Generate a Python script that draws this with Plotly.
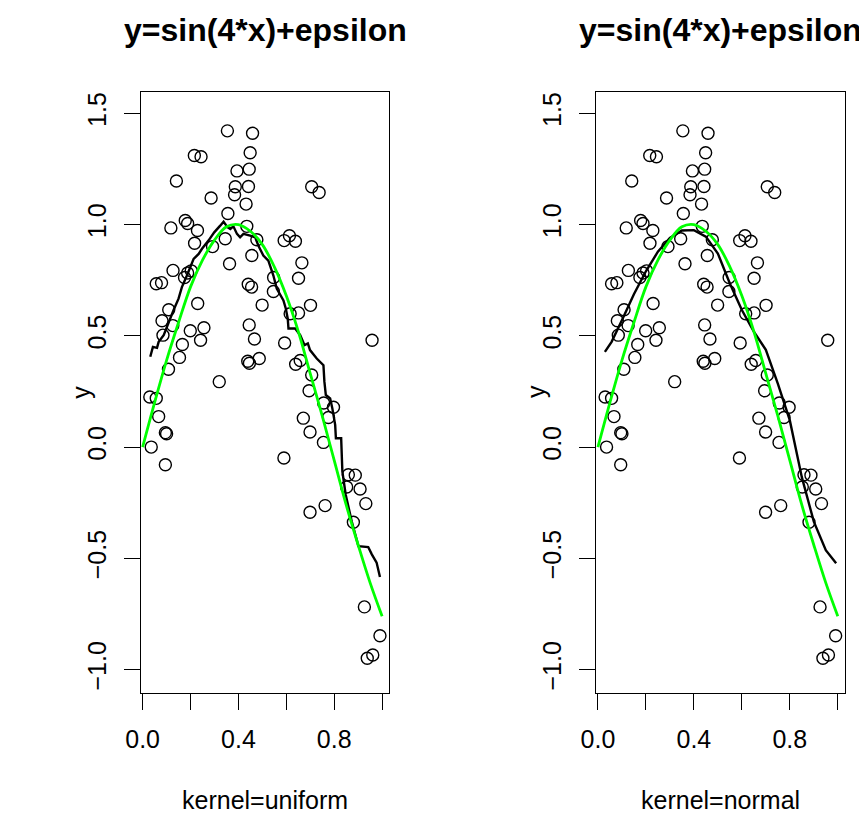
import plotly.graph_objects as go

# ---------------- data ----------------
pts_x = [0.354, 0.459, 0.216, 0.244, 0.449, 0.141, 0.394, 0.445, 0.387, 0.442,
         0.384, 0.286, 0.432, 0.706, 0.737, 0.356, 0.118, 0.178, 0.188, 0.229,
         0.435, 0.217, 0.345, 0.477, 0.591, 0.613, 0.638, 0.292, 0.456, 0.665,
         0.363, 0.127, 0.175, 0.188, 0.203, 0.057, 0.079, 0.651, 0.441, 0.455,
         0.547, 0.546,
         0.109, 0.081, 0.126, 0.085, 0.230, 0.199, 0.256, 0.242, 0.166, 0.154,
         0.108, 0.320, 0.030, 0.057, 0.067, 0.095, 0.100, 0.036, 0.095, 0.499,
         0.445, 0.467, 0.439, 0.446, 0.487, 0.701, 0.651, 0.616, 0.593, 0.639,
         0.658, 0.706, 0.695, 0.756, 0.797, 0.776, 0.671, 0.699, 0.755, 0.590,
         0.958, 0.859, 0.888,
         0.852, 0.908, 0.932, 0.762, 0.699, 0.880, 0.926, 0.991, 0.961, 0.938]
pts_y = [1.421, 1.410, 1.310, 1.305, 1.323, 1.196, 1.241, 1.249, 1.170, 1.171,
         1.134, 1.119, 1.092, 1.170, 1.144, 1.050, 0.985, 1.018, 1.005, 0.973,
         0.992, 0.916, 0.936, 0.932, 0.928, 0.950, 0.925, 0.901, 0.861, 0.828,
         0.824, 0.794, 0.762, 0.782, 0.792, 0.734, 0.739, 0.759, 0.732, 0.719,
         0.762, 0.699,
         0.617, 0.568, 0.546, 0.503, 0.645, 0.523, 0.536, 0.480, 0.461, 0.403,
         0.350, 0.294, 0.225, 0.219, 0.137, 0.065, 0.060, 0.000, -0.079, 0.638,
         0.549, 0.486, 0.386, 0.377, 0.398, 0.637, 0.603, 0.599, 0.468, 0.372,
         0.389, 0.324, 0.253, 0.198, 0.179, 0.133, 0.130, 0.068, 0.021, -0.049,
         0.480, -0.124, -0.126,
         -0.179, -0.188, -0.254, -0.263, -0.293, -0.338, -0.718, -0.848, -0.934, -0.949]

# true curve (green), read at x = 0, 0.05, ..., 1
true_x = [0.00, 0.05, 0.10, 0.15, 0.20, 0.25, 0.30, 0.35, 0.40, 0.45, 0.50,
          0.55, 0.60, 0.65, 0.70, 0.75, 0.80, 0.85, 0.90, 0.95, 1.00]
true_y = [0.00, 0.20, 0.39, 0.56, 0.72, 0.84, 0.93, 0.99, 1.00, 0.97, 0.91,
          0.81, 0.68, 0.52, 0.33, 0.14, -0.06, -0.26, -0.44, -0.61, -0.76]

# uniform-kernel smoother (left, black)
unif_x = [0.032, 0.043, 0.060, 0.067, 0.088, 0.108, 0.129, 0.150, 0.164, 0.185,
          0.199, 0.213, 0.234, 0.248, 0.275, 0.299, 0.324, 0.338, 0.354, 0.366,
          0.379, 0.394, 0.407, 0.421, 0.449, 0.470, 0.483, 0.504, 0.525, 0.546,
          0.560, 0.574, 0.588, 0.598, 0.606, 0.609, 0.637, 0.658, 0.676, 0.690,
          0.699, 0.727, 0.755, 0.759, 0.765, 0.783, 0.792, 0.804, 0.807, 0.829,
          0.834, 0.848, 0.873, 0.901, 0.942, 0.957, 0.977, 0.991]
unif_y = [0.406, 0.450, 0.446, 0.473, 0.503, 0.562, 0.615, 0.667, 0.719, 0.771,
          0.808, 0.846, 0.868, 0.891, 0.928, 0.965, 0.995, 1.013, 0.988, 0.980,
          0.992, 0.958, 0.943, 0.958, 0.950, 0.943, 0.906, 0.861, 0.838, 0.771,
          0.712, 0.682, 0.659, 0.622, 0.577, 0.533, 0.533, 0.503, 0.458, 0.466,
          0.436, 0.398, 0.368, 0.294, 0.234, 0.219, 0.175, 0.100, 0.040, 0.040,
          -0.109, -0.214, -0.333, -0.445, -0.449, -0.482, -0.519, -0.584]

# normal-kernel smoother (right, black)
norm_x = [0.029, 0.057, 0.10, 0.15, 0.20, 0.25, 0.30, 0.35, 0.40, 0.45, 0.50,
          0.55, 0.60, 0.65, 0.70, 0.75, 0.80, 0.85, 0.90, 0.95, 0.993]
norm_y = [0.428, 0.473, 0.570, 0.687, 0.790, 0.878, 0.940, 0.973, 0.975, 0.946, 0.870,
          0.735, 0.616, 0.519, 0.437, 0.285, 0.120, -0.135, -0.335, -0.463, -0.522]

x_tickvals = [0.0, 0.2, 0.4, 0.6, 0.8, 1.0]
x_ticktext = ["0.0", "", "0.4", "", "0.8", ""]
y_tickvals = [-1.0, -0.5, 0.0, 0.5, 1.0, 1.5]
y_ticktext = ["\u22121.0", "\u22120.5", "0.0", "0.5", "1.0", "1.5"]

title_text = "y=sin(4*x)+epsilon"
xlabels = ["kernel=uniform", "kernel=normal"]
ylabel = "y"

# ---------------- figure ----------------
OFF = 8                      # page body margin
W, H = 867 - OFF, 827 - 2 * OFF
FONT = "Liberation Sans, Arial, Helvetica, sans-serif"
fig = go.Figure()

smooths = [(unif_x, unif_y), (norm_x, norm_y)]
for i, (sx, sy) in enumerate(smooths):
    xa = "x" if i == 0 else "x2"
    ya = "y" if i == 0 else "y2"
    fig.add_trace(go.Scatter(x=pts_x, y=pts_y, mode="markers", xaxis=xa, yaxis=ya,
                             marker=dict(symbol="circle-open", size=12, color="black",
                                         line=dict(width=1.4, color="black"))))
    fig.add_trace(go.Scatter(x=sx, y=sy, mode="lines", xaxis=xa, yaxis=ya,
                             line=dict(color="black", width=2.4)))
    fig.add_trace(go.Scatter(x=true_x, y=true_y, mode="lines", xaxis=xa, yaxis=ya,
                             line=dict(color="#00ff00", width=2.8, shape="spline")))


def px(v):
    return (v - OFF) / W


def py(v):
    return 1 - (v - OFF) / H


boxes = [(140.7, 389.3), (596.0, 845.0)]
ytop, ybot = 91.7, 693.0
ydom = [py(ybot), py(ytop)]

common_x = dict(range=[-0.008, 1.03], tickvals=x_tickvals, ticktext=x_ticktext,
                ticks="outside", ticklen=16, tickwidth=1.3, tickcolor="black",
                showline=True, mirror=True, linecolor="black", linewidth=1.3,
                showgrid=False, zeroline=False, automargin=False,
                tickfont=dict(family=FONT, size=25, color="black"),
                ticklabelstandoff=8)
common_y = dict(range=[-1.105, 1.597], tickvals=y_tickvals, ticktext=y_ticktext,
                ticks="outside", ticklen=16, tickwidth=1.3, tickcolor="black",
                showline=True, mirror=True, linecolor="black", linewidth=1.3,
                showgrid=False, zeroline=False, tickangle=-90, automargin=False,
                tickfont=dict(family=FONT, size=25, color="black"),
                ticklabelstandoff=8, domain=ydom)

fig.update_layout(
    width=W, height=H, margin=dict(l=0, r=0, t=0, b=0, autoexpand=False),
    paper_bgcolor="white", plot_bgcolor="white", showlegend=False,
    xaxis=dict(common_x, domain=[px(boxes[0][0]), px(boxes[0][1])], anchor="y"),
    yaxis=dict(common_y, anchor="x"),
    xaxis2=dict(common_x, domain=[px(boxes[1][0]), px(boxes[1][1])], anchor="y2"),
    yaxis2=dict(common_y, anchor="x2"),
)

ann = []
for i, (l, r) in enumerate(boxes):
    cx = px((l + r) / 2)
    ann.append(dict(text=title_text, x=cx, y=py(30), xref="paper", yref="paper",
                    xanchor="center", yanchor="middle", showarrow=False,
                    font=dict(family=FONT, size=32, color="black", weight="bold")))
    ann.append(dict(text=xlabels[i], x=cx, y=py(800), xref="paper", yref="paper",
                    xanchor="center", yanchor="middle", showarrow=False,
                    font=dict(family=FONT, size=25, color="black")))
    ann.append(dict(text=ylabel, x=px(l - 60), y=py(392), xref="paper", yref="paper",
                    xanchor="center", yanchor="middle", showarrow=False, textangle=-90,
                    font=dict(family=FONT, size=25, color="black")))
fig.update_layout(annotations=ann)

fig.write_html("out.html")
